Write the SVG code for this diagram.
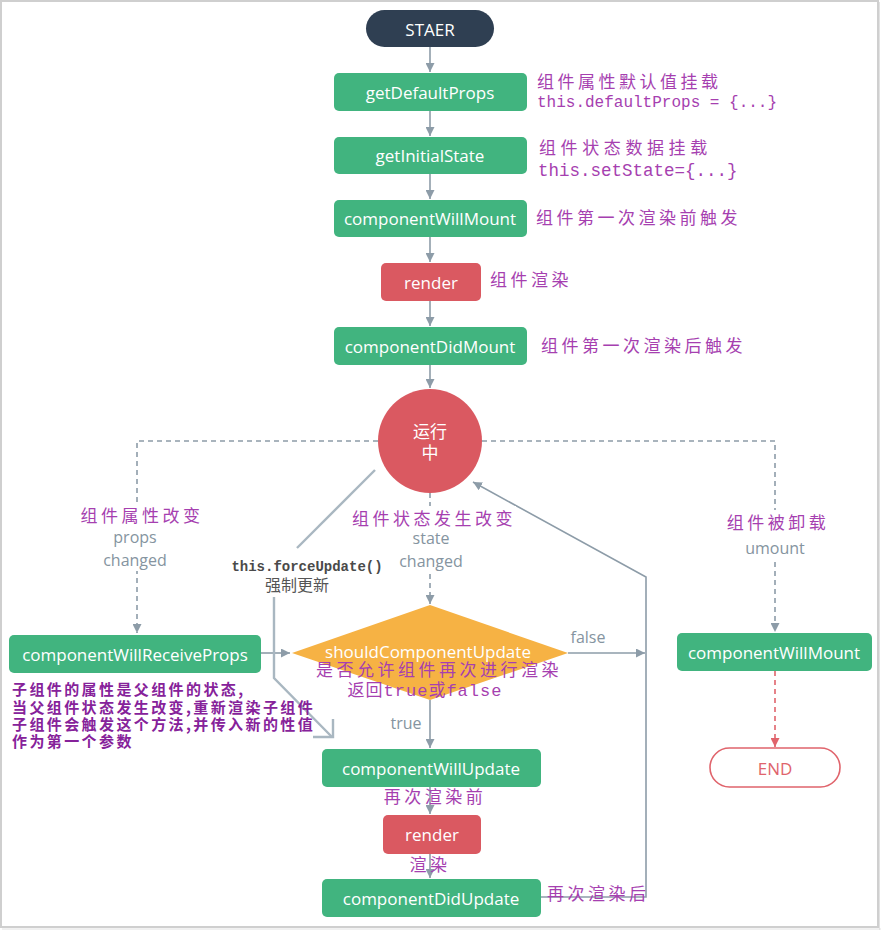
<svg xmlns="http://www.w3.org/2000/svg" width="881" height="930" viewBox="0 0 881 930">
  <style>
    .node-text { font-family: "Open Sans", "Noto Sans", sans-serif; font-size: 17px; fill: #ffffff; text-anchor: middle; dominant-baseline: central; }
    .green { fill: #41b47f; }
    .red { fill: #da5961; }
    .line { fill: none; stroke: #8d9ca8; stroke-width: 1.6; }
    .dash { stroke-dasharray: 5 4; }
    .note { font-family: "Noto Sans CJK SC", sans-serif; font-size: 17px; fill: #a63fb0; letter-spacing: 3.5px; }
    .code { font-family: "Liberation Mono", monospace; font-size: 16px; fill: #a63fb0; }
    .label { font-family: "Open Sans", "Noto Sans", sans-serif; font-size: 16px; fill: #8594a0; text-anchor: middle; }
    .desc { font-family: "Noto Sans CJK SC", sans-serif; font-size: 15px; font-weight: bold; fill: #86229a; letter-spacing: 2.4px; }
  </style>
  <defs>
    <marker id="arr" viewBox="0 0 10 10" refX="10" refY="5" markerWidth="9" markerHeight="9" markerUnits="userSpaceOnUse" orient="auto">
      <path d="M0,0 L10,5 L0,10 z" fill="#8d9ca8"/>
    </marker>
    <marker id="arr-red" viewBox="0 0 10 10" refX="10" refY="5" markerWidth="9" markerHeight="9" markerUnits="userSpaceOnUse" orient="auto">
      <path d="M0,0 L10,5 L0,10 z" fill="#e0646c"/>
    </marker>
  </defs>

  <!-- page frame -->
  <rect x="0" y="0" width="881" height="930" fill="#ffffff"/>
  <rect x="1" y="1" width="877" height="926" fill="none" stroke="#cfcfcf" stroke-width="2"/>
  <line x1="879.5" y1="2" x2="879.5" y2="930" stroke="#e2e2e2" stroke-width="1"/>
  <line x1="2" y1="929" x2="881" y2="929" stroke="#e2e2e2" stroke-width="1"/>

  <!-- connectors -->
  <g id="connectors">
    <path class="line" d="M430,47 V72" marker-end="url(#arr)"/>
    <path class="line" d="M430,111 V136" marker-end="url(#arr)"/>
    <path class="line" d="M430,174 V199" marker-end="url(#arr)"/>
    <path class="line" d="M430,237 V262" marker-end="url(#arr)"/>
    <path class="line" d="M430,301 V326" marker-end="url(#arr)"/>
    <path class="line" d="M430,365 V388" marker-end="url(#arr)"/>
    <path class="line dash" d="M378,441 H137 V633" marker-end="url(#arr)"/>
    <path class="line dash" d="M482,441 H775 V632" marker-end="url(#arr)"/>
    <path class="line dash" d="M430,493 V604" marker-end="url(#arr)"/>
    <path class="line" d="M261,653 H290" marker-end="url(#arr)"/>
    <path class="line" d="M568,653 H645" marker-end="url(#arr)"/>
    <path class="line" d="M430,700 V748" marker-end="url(#arr)"/>
    <path class="line" d="M430,787 V814" marker-end="url(#arr)"/>
    <path class="line" d="M430,854 V878" marker-end="url(#arr)"/>
    <path class="line" d="M541,897 H646 V577 L473,482" marker-end="url(#arr)"/>
    <path d="M775,671 V747" fill="none" stroke="#e0646c" stroke-width="1.6" stroke-dasharray="5 4" marker-end="url(#arr-red)"/>
    <!-- forced update path -->
    <path d="M375,470 L297,548" fill="none" stroke="#a9b7c1" stroke-width="2.4"/>
    <path d="M274,597 V678 L332,737" fill="none" stroke="#a9b7c1" stroke-width="2.4"/>
    <path d="M313,737 H333 V719" fill="none" stroke="#a9b7c1" stroke-width="2.4"/>
  </g>

  <!-- connector labels -->
  <g id="labels">
    <rect x="78" y="503" width="130" height="68" fill="#ffffff"/>
    <text class="note" x="142" y="522" text-anchor="middle">组件属性改变</text>
    <text class="label" x="135" y="543">props</text>
    <text class="label" x="135" y="566">changed</text>

    <rect x="348" y="506" width="168" height="66" fill="#ffffff"/>
    <text class="note" x="434" y="525" text-anchor="middle">组件状态发生改变</text>
    <text class="label" x="431" y="544">state</text>
    <text class="label" x="431" y="567">changed</text>

    <rect x="722" y="510" width="108" height="50" fill="#ffffff"/>
    <text class="note" x="778" y="529" text-anchor="middle">组件被卸载</text>
    <text class="label" x="775" y="554">umount</text>

    <text class="label" x="588" y="643">false</text>
    <text class="label" x="406" y="729">true</text>

    <text x="307" y="571" text-anchor="middle" font-family="Liberation Mono, monospace" font-size="14" fill="#4a4a4a" font-weight="bold">this.forceUpdate()</text>
    <text x="297" y="591" text-anchor="middle" font-family="Noto Sans CJK SC, sans-serif" font-size="16" fill="#555555">强制更新</text>
  </g>

  <!-- nodes -->
  <g id="start">
    <rect x="366" y="10" width="128" height="37" rx="18.5" fill="#2f3f52"/>
    <text class="node-text" x="430" y="29">STAER</text>
  </g>
  <g id="getDefaultProps">
    <rect class="green" x="334" y="73" width="193" height="38" rx="5"/>
    <text class="node-text" x="430" y="92">getDefaultProps</text>
  </g>
  <g id="getInitialState">
    <rect class="green" x="334" y="137" width="193" height="37" rx="5"/>
    <text class="node-text" x="430" y="155">getInitialState</text>
  </g>
  <g id="componentWillMount">
    <rect class="green" x="334" y="200" width="193" height="37" rx="5"/>
    <text class="node-text" x="430" y="218">componentWillMount</text>
  </g>
  <g id="render">
    <rect class="red" x="381" y="263" width="100" height="38" rx="5"/>
    <text class="node-text" x="431" y="282">render</text>
  </g>
  <g id="componentDidMount">
    <rect class="green" x="334" y="327" width="193" height="38" rx="5"/>
    <text class="node-text" x="430" y="346">componentDidMount</text>
  </g>
  <g id="running">
    <circle cx="430" cy="441" r="52" fill="#da5961"/>
    <text x="430" y="438" text-anchor="middle" font-family="Noto Sans CJK SC, sans-serif" font-size="17" fill="#ffffff">运行</text>
    <text x="430" y="459" text-anchor="middle" font-family="Noto Sans CJK SC, sans-serif" font-size="17" fill="#ffffff">中</text>
  </g>
  <g id="componentWillReceiveProps">
    <rect class="green" x="9" y="635" width="252" height="38" rx="5"/>
    <text class="node-text" x="135" y="654">componentWillReceiveProps</text>
  </g>
  <g id="shouldComponentUpdate">
    <polygon points="430,605 568,653 430,700 292,653" fill="#f6b244"/>
    <text class="node-text" x="428" y="651">shouldComponentUpdate</text>
  </g>
  <g id="componentWillUpdate">
    <rect class="green" x="322" y="749" width="219" height="38" rx="5"/>
    <text class="node-text" x="431" y="768">componentWillUpdate</text>
  </g>
  <g id="render-update">
    <rect class="red" x="383" y="815" width="98" height="39" rx="5"/>
    <text class="node-text" x="432" y="834">render</text>
  </g>
  <g id="componentDidUpdate">
    <rect class="green" x="322" y="879" width="219" height="38" rx="5"/>
    <text class="node-text" x="431" y="898">componentDidUpdate</text>
  </g>
  <g id="componentWillUnmount">
    <rect class="green" x="677" y="633" width="195" height="38" rx="5"/>
    <text class="node-text" x="774" y="652">componentWillMount</text>
  </g>
  <g id="end">
    <rect x="710" y="748" width="130" height="39" rx="19.5" fill="#ffffff" stroke="#e0646c" stroke-width="1.6"/>
    <text class="node-text" x="775" y="768" style="fill:#e0646c">END</text>
  </g>

  <!-- annotations -->
  <g id="notes">
    <text class="note" x="537" y="88">组件属性默认值挂载</text>
    <text class="code" x="537" y="107">this.defaultProps = {...}</text>
    <text class="note" x="539" y="154" style="letter-spacing:4.6px">组件状态数据挂载</text>
    <text class="code" x="538" y="176" font-size="17.5" style="font-size:17.5px">this.setState={...}</text>
    <text class="note" x="536" y="224">组件第一次渲染前触发</text>
    <text class="note" x="490" y="286">组件渲染</text>
    <text class="note" x="541" y="352">组件第一次渲染后触发</text>
    <text class="note" x="439" y="676" text-anchor="middle">是否允许组件再次进行渲染</text>
    <text class="note" x="425" y="696" text-anchor="middle" style="letter-spacing:1px">返回<tspan font-family="Liberation Mono, monospace">true</tspan>或<tspan font-family="Liberation Mono, monospace">false</tspan></text>
    <text class="note" x="435" y="803" text-anchor="middle">再次渲染前</text>
    <text class="note" x="430" y="871" text-anchor="middle">渲染</text>
    <text class="note" x="547" y="900">再次渲染后</text>
    <text class="desc" x="12" y="695">子组件的属性是父组件的状态,</text>
    <text class="desc" x="12" y="713">当父组件状态发生改变,重新渲染子组件</text>
    <text class="desc" x="12" y="730">子组件会触发这个方法,并传入新的性值</text>
    <text class="desc" x="12" y="747">作为第一个参数</text>
  </g>
</svg>
